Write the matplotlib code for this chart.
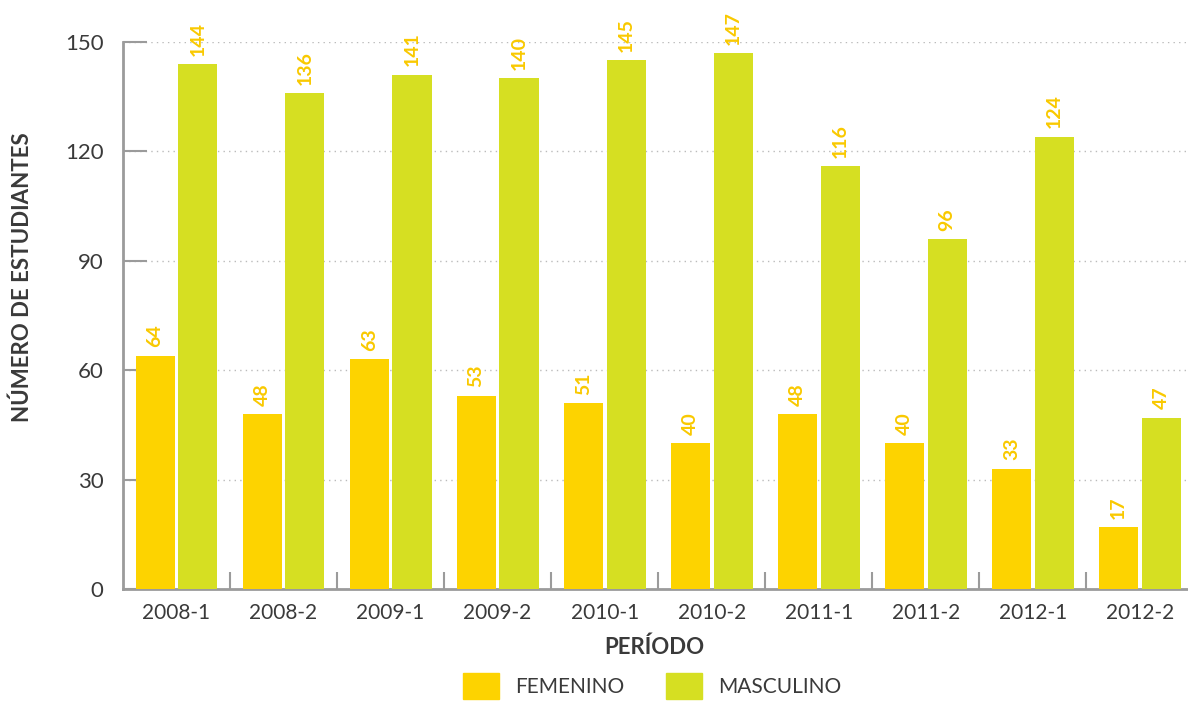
import matplotlib.pyplot as plt
from matplotlib.patches import Patch
import numpy as np

plt.rcParams['font.family'] = ['Lato', 'DejaVu Sans']

periodos = ['2008-1', '2008-2', '2009-1', '2009-2', '2010-1',
            '2010-2', '2011-1', '2011-2', '2012-1', '2012-2']
femenino = [64, 48, 63, 53, 51, 40, 48, 40, 33, 17]
masculino = [144, 136, 141, 140, 145, 147, 116, 96, 124, 47]

col_fem = '#FDD300'
col_mas = '#D6DF22'
col_lbl = '#F9C900'
gris = '#9B9B9B'
texto = '#3A3A3A'

fig = plt.figure(figsize=(11.88, 7.03), dpi=100)
ax = fig.add_axes([123 / 1188, 1 - 589 / 703, 1 - 123 / 1188, (589 - 42) / 703])

x = np.arange(len(periodos))
w = 0.365
b1 = ax.bar(x - 0.2, femenino, w, color=col_fem, zorder=3)
b2 = ax.bar(x + 0.2, masculino, w, color=col_mas, zorder=3)

# value labels, rotated above each bar
for bars, vals in ((b1, femenino), (b2, masculino)):
    for r, v in zip(bars, vals):
        ax.annotate(str(v), (r.get_x() + r.get_width() / 2, v),
                    xytext=(0, 6), textcoords='offset points',
                    rotation=90, ha='center', va='bottom',
                    fontsize=14, fontweight='bold', color=col_lbl,
                    clip_on=False)

ax.set_xlim(-0.5, 9.45)
ax.set_ylim(0, 150)
ax.set_yticks([0, 30, 60, 90, 120, 150])
ax.yaxis.grid(True, linestyle=(0, (1, 3)), color='#BBBBBB', linewidth=1, zorder=0)

ax.set_xticks(x)
ax.set_xticklabels(periodos)
ax.set_xticks(x[:-1] + 0.5, minor=True)
ax.tick_params(axis='x', which='major', length=0, pad=10, labelsize=15, labelcolor=texto)
ax.tick_params(axis='x', which='minor', direction='in', length=12, width=1.5, color=gris)
ax.tick_params(axis='y', direction='in', length=17, width=1.5, color=gris,
               pad=14, labelsize=16, labelcolor=texto)
for lbl in ax.get_yticklabels():
    lbl.set_horizontalalignment('right')

for s in ('top', 'right'):
    ax.spines[s].set_visible(False)
for s in ('left', 'bottom'):
    ax.spines[s].set_color(gris)
    ax.spines[s].set_linewidth(2)

fig.text(22 / 1188, 1 - 277 / 703, 'NÚMERO DE ESTUDIANTES', rotation=90,
         ha='center', va='center', fontsize=16, fontweight='bold', color=texto)
fig.text(654 / 1188, 1 - 647 / 703, 'PERÍODO', ha='center', va='center',
         fontsize=16, fontweight='bold', color=texto)

handles = [Patch(color=col_fem, label='FEMENINO'), Patch(color=col_mas, label='MASCULINO')]
fig.legend(handles=handles, loc='center', bbox_to_anchor=(652 / 1188, 1 - 686 / 703),
           ncol=2, frameon=False, fontsize=15, handlelength=1.75, handleheight=1.55,
           handletextpad=0.75, columnspacing=2.0, labelcolor=texto)

fig.savefig('out.png', dpi=100)
